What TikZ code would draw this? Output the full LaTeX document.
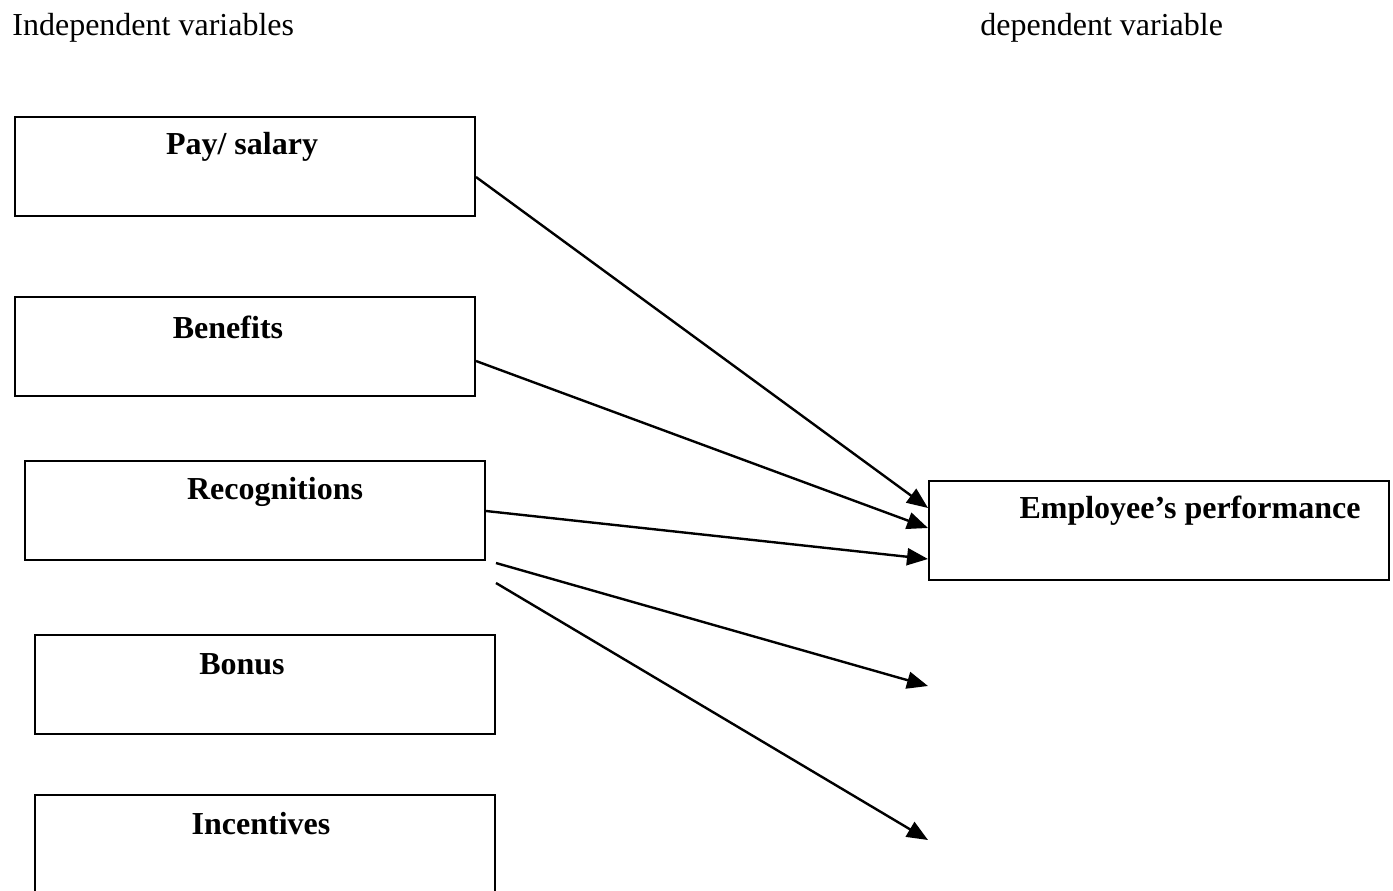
\documentclass[tikz,border=0pt]{standalone}
\usepackage{fontspec}
\setmainfont{Liberation Serif}
\usetikzlibrary{arrows.meta,calc}
\begin{document}
\begin{tikzpicture}[x=0.5pt,y=-0.5pt,
  box/.style={draw,line width=1pt,minimum width=230pt,minimum height=49.5pt,inner sep=0pt},
  lbl/.style={font=\fontsize{16}{19}\selectfont\bfseries,inner sep=0pt},
  hdr/.style={font=\fontsize{16}{19}\selectfont,inner sep=0pt},
  conn/.style={line width=1.2pt,-{Triangle[length=10.5pt,width=8.5pt]}}]
\useasboundingbox (0,0) rectangle (1393,890);
\node[hdr,anchor=west] (hind) at (12,28) {Independent variables};
\node[hdr,anchor=west] (hdep) at (980,28) {dependent variable};
\node[box,anchor=north west] (pay) at (14,116) {};
\node[box,anchor=north west] (ben) at (14,296) {};
\node[box,anchor=north west] (rec) at (24,460) {};
\node[box,anchor=north west] (bon) at (34,634) {};
\node[box,anchor=north west] (inc) at (34,794) {};
\node[box,anchor=north west] (emp) at (928,480) {};
\node[lbl] (tpay) at (242,147) {Pay/ salary};
\node[lbl] (tben) at (228,327) {Benefits};
\node[lbl] (trec) at (275,492) {Recognitions};
\node[lbl] (tbon) at (242,664) {Bonus};
\node[lbl] (tinc) at (261,824) {Incentives};
\node[lbl] (temp) at (1190,511) {Employee’s performance};
\coordinate (e1) at (928,686);
\coordinate (e2) at (928,840);
\draw[conn] ($(pay.north east)+(0,61)$) -- ($(emp.north west)+(0,28)$);
\draw[conn] ($(ben.north east)+(0,65)$) -- ($(emp.north west)+(0,48)$);
\draw[conn] ($(rec.north east)+(0,51)$) -- ($(emp.north west)+(0,79)$);
\draw[conn] ($(rec.south east)+(10,2)$) -- (e1);
\draw[conn] ($(rec.south east)+(10,22)$) -- (e2);
\end{tikzpicture}
\end{document}
